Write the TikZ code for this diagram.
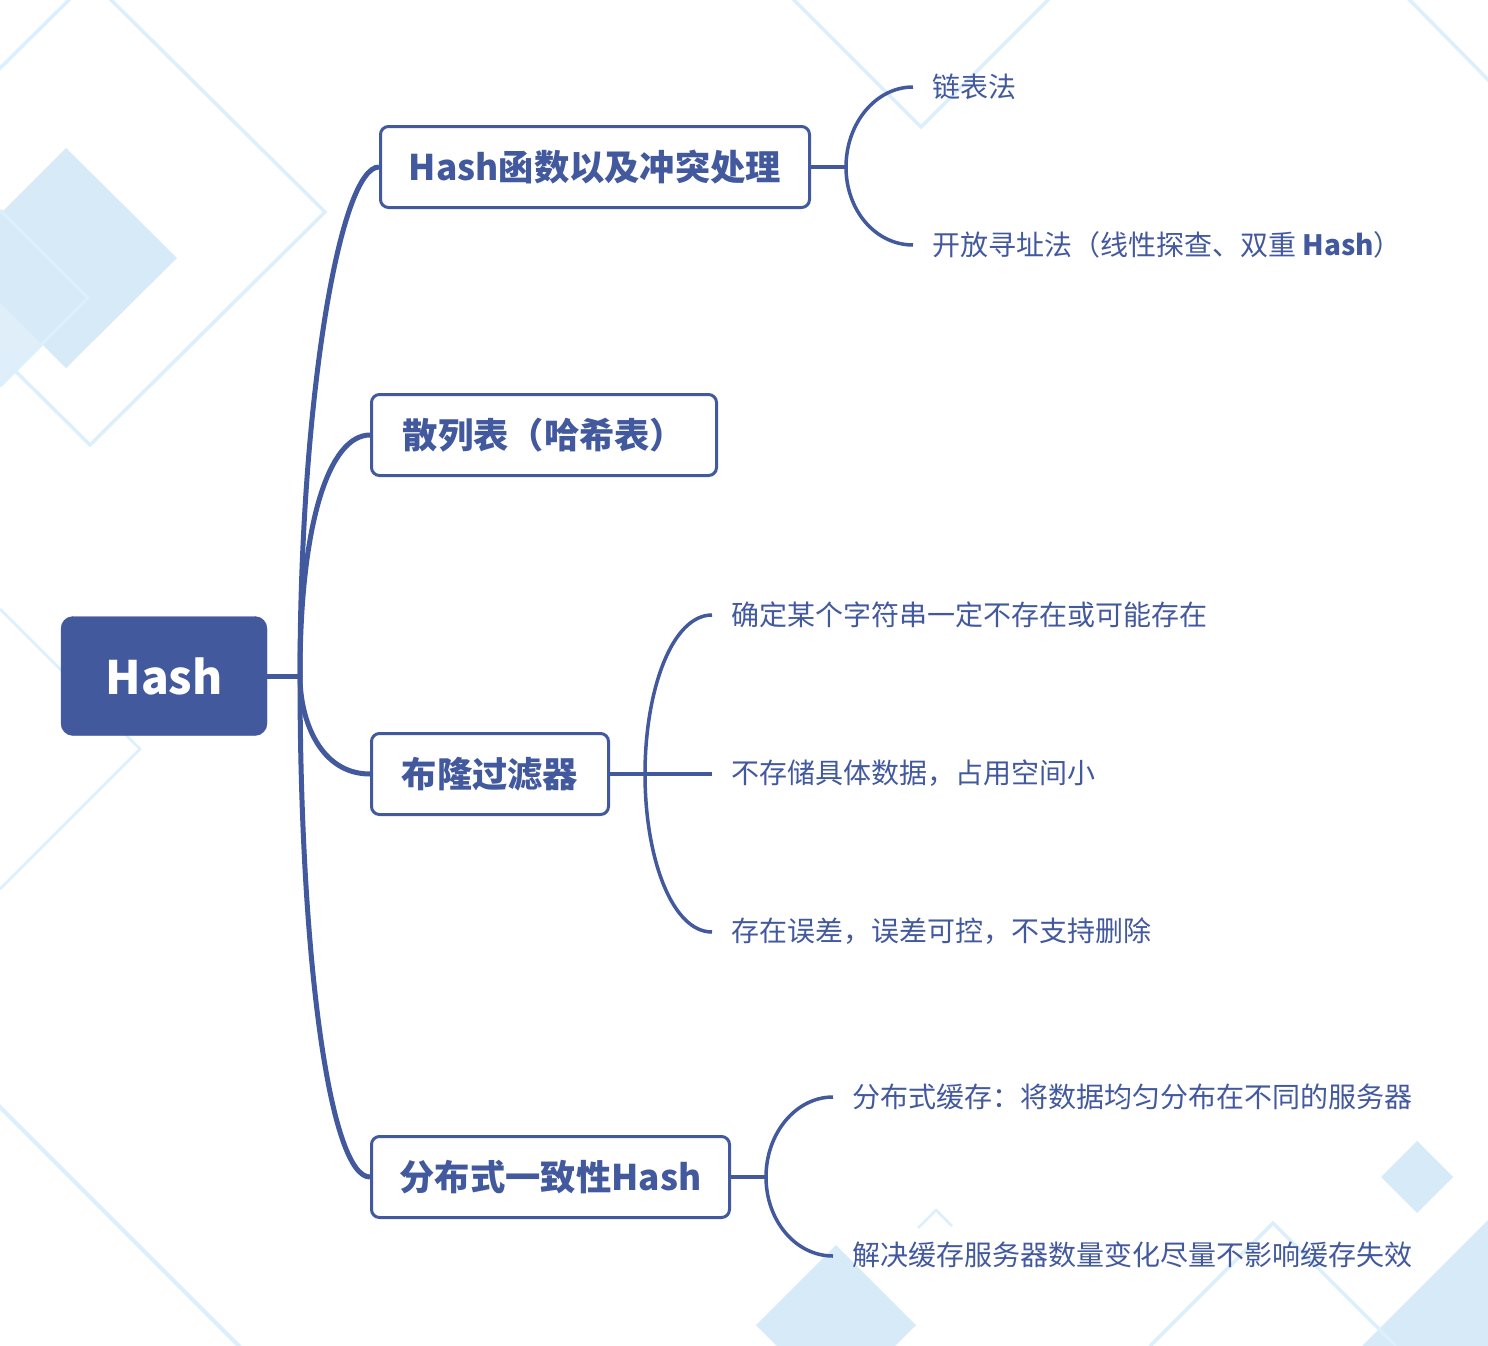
\documentclass[tikz,border=0pt]{standalone}
\usepackage{fontspec}
\setmainfont{Noto Sans CJK SC}
\definecolor{mainblue}{HTML}{43599E}
\definecolor{bgline}{HTML}{DCEFFC}
\definecolor{bgfill}{HTML}{D7EAF8}
\begin{document}
\begin{tikzpicture}[x=1pt,y=-1pt,
  rootbox/.style={draw=mainblue, fill=mainblue, rounded corners=12pt, minimum width=206pt, minimum height=119pt, inner sep=0pt, text=white, font=\fontsize{46}{46}\selectfont\bfseries},
  topicbox/.style={draw=mainblue, line width=3pt, fill=white, rounded corners=8pt, minimum height=81pt, inner sep=0pt, text=mainblue, font=\fontsize{35.3}{35.3}\selectfont\bfseries},
  leaf/.style={anchor=west, inner sep=0pt, text=mainblue, font=\fontsize{28}{28}\selectfont},
  trunk/.style={draw=mainblue, line width=5pt},
  bracket/.style={draw=mainblue, line width=3.5pt},
  bgl/.style={draw=bgline, line width=3.5pt, line join=miter},
  bgf/.style={fill=bgfill}
]
\useasboundingbox (0,0) rectangle (1488,1346);
\fill[white] (0,0) rectangle (1488,1346);
% ---------- background decorations ----------
\begin{scope}
\clip (0,0) rectangle (1488,1346);
\fill[bgf, opacity=0.8] (0,210) -- (88,298) -- (0,386) -- (-88,298) -- cycle;
\fill[bgf] (66,148) -- (177,258) -- (66,368) -- (-44,258) -- cycle;
\draw[bgl] (0,210) -- (88,298) -- (0,386);
\draw[bgl] (90,-21) -- (325,212) -- (90,445) -- (-145,212) -- cycle;
\draw[bgl, line width=2.5pt] (0,609) -- (140,749) -- (0,889);
\draw[bgl, line width=4pt] (-20,1087) -- (260,1367);
\draw[bgl] (774,-20) -- (921,127) -- (1068,-20);
\draw[bgl] (1390,-20) -- (1508,100);
\fill[bgf] (1417,1141) -- (1453,1177) -- (1417,1213) -- (1381,1177) -- cycle;
\fill[bgf] (1500,1208) -- (1362,1346) -- (1500,1346) -- cycle;
\fill[bgf] (756,1325) -- (836,1245) -- (916,1325) -- (836,1405) -- cycle;
\draw[bgl] (1150,1346) -- (1273,1223) -- (1396,1346);
\draw[bgl, line width=2.5pt] (918,1228) -- (936,1210) -- (952,1226);
\end{scope}
% ---------- nodes ----------
\node[rootbox] (root) at (164,676) {Hash};
\node[topicbox, minimum width=429pt] (b1) at (595,167) {Hash函数以及冲突处理};
\node[topicbox, minimum width=345pt] (b2) at (544,435) {散列表（哈希表）};
\node[topicbox, minimum width=237pt] (b3) at (490,774) {布隆过滤器};
\node[topicbox, minimum width=358pt] (b4) at (550.5,1177) {分布式一致性Hash};
\node[leaf] (l11) at (932,87) {链表法};
\node[leaf] (l12) at (932,245) {开放寻址法（线性探查、双重 {\bfseries Hash}）};
\node[leaf] (l31) at (731,615) {确定某个字符串一定不存在或可能存在};
\node[leaf] (l32) at (731,773) {不存储具体数据，占用空间小};
\node[leaf] (l33) at (731,931) {存在误差，误差可控，不支持删除};
\node[leaf] (l41) at (852,1097) {分布式缓存：将数据均匀分布在不同的服务器};
\node[leaf] (l42) at (852,1255) {解决缓存服务器数量变化尽量不影响缓存失效};
% ---------- connectors ----------
\coordinate (t) at (300,676);
\draw[trunk] (root.east) -- (t);
\draw[trunk] (t) .. controls (300,400) and (340,167) .. (b1.west);
\draw[trunk] (t) .. controls (300,520) and (330,435) .. (b2.west);
\draw[trunk] (t) .. controls (300,720) and (320,774) .. (b3.west);
\draw[trunk] (t) .. controls (300,960) and (330,1177) .. (b4.west);
% box 1 bracket
\coordinate (j1) at (846,167);
\coordinate (e11) at (913,87);
\coordinate (e12) at (913,245);
\draw[bracket] (b1.east) -- (j1);
\draw[bracket] (e11) .. controls (876,87) and (846,123) .. (j1) .. controls (846,211) and (876,245) .. (e12);
% box 3 bracket
\coordinate (j3) at (645,774);
\coordinate (e31) at (712,615);
\coordinate (e32) at (712,774);
\coordinate (e33) at (712,932);
\draw[bracket] (b3.east) -- (e32);
\draw[bracket] (e31) .. controls (672,615) and (645,690) .. (j3) .. controls (645,858) and (672,932) .. (e33);
% box 4 bracket
\coordinate (j4) at (766,1177);
\coordinate (e41) at (833,1097);
\coordinate (e42) at (833,1256);
\draw[bracket] (b4.east) -- (j4);
\draw[bracket] (e41) .. controls (796,1097) and (766,1133) .. (j4) .. controls (766,1221) and (796,1256) .. (e42);
\end{tikzpicture}
\end{document}
